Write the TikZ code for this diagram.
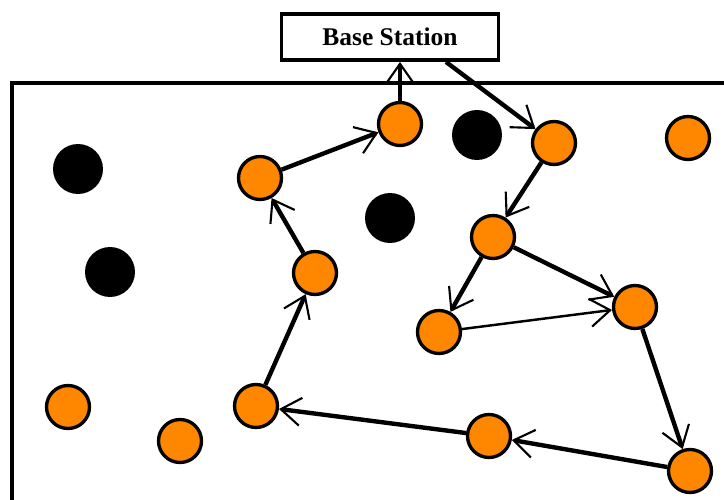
\documentclass[tikz,border=0pt]{standalone}
\usepackage{fontspec}
\setmainfont{Liberation Serif}
\usetikzlibrary{arrows.meta}
\definecolor{nodeorange}{RGB}{255,135,0}

\begin{document}
\begin{tikzpicture}[x=0.02cm, y=-0.02cm,
  alive/.style={circle, draw, fill=nodeorange, line width=1.9pt, minimum size=0.86cm, inner sep=0pt},
  dead/.style={circle, fill=black, minimum size=1cm, inner sep=0pt},
  link/.style={line width=2.5pt, -{Straight Barb[length=0.4cm, width=0.56cm, line width=1.2pt]}},
  thinlink/.style={link, line width=1.4pt}]

\useasboundingbox (0,0) rectangle (724,500);

% field border
\draw [line width=2.1pt] (12,500) -- (12,83) -- (724,83);

% base station
\node [draw, line width=2.2pt, minimum width=4.34cm, minimum height=0.92cm,
       font=\bfseries\fontsize{14.5}{16}\selectfont] (bs) at (390,37) {Base Station};

% dead nodes
\node [dead] (d1) at (78,169) {};
\node [dead] (d2) at (110,272) {};
\node [dead] (d3) at (390,218) {};
\node [dead] (d4) at (477,135) {};

% alive nodes
\node [alive] (n1) at (400,124) {};
\node [alive] (n2) at (554,143) {};
\node [alive] (n3) at (688,138) {};
\node [alive] (n4) at (260,178) {};
\node [alive] (n5) at (493,237) {};
\node [alive] (n6) at (315,273) {};
\node [alive] (n7) at (635,307) {};
\node [alive] (n8) at (439,332) {};
\node [alive] (n9) at (68,407) {};
\node [alive] (n10) at (180,441) {};
\node [alive] (n11) at (256,406) {};
\node [alive] (n12) at (489,436) {};
\node [alive] (n13) at (690,471) {};

% chain
\draw [link] (n11) -- (n6);
\draw [link] (n6) -- (n4);
\draw [link] (n4) -- (n1);
\draw [link] (n1) -- (n1 |- bs.south);
\draw [link] (bs.-24) -- (n2);
\draw [link] (n2) -- (n5);
\draw [link] (n5) -- (n8);
\draw [link] (n5) -- (n7);
\draw [thinlink] (n8) -- (n7);
\draw [link] (n7) -- (n13);
\draw [link] (n13) -- (n12);
\draw [link] (n12) -- (n11);

\end{tikzpicture}
\end{document}
